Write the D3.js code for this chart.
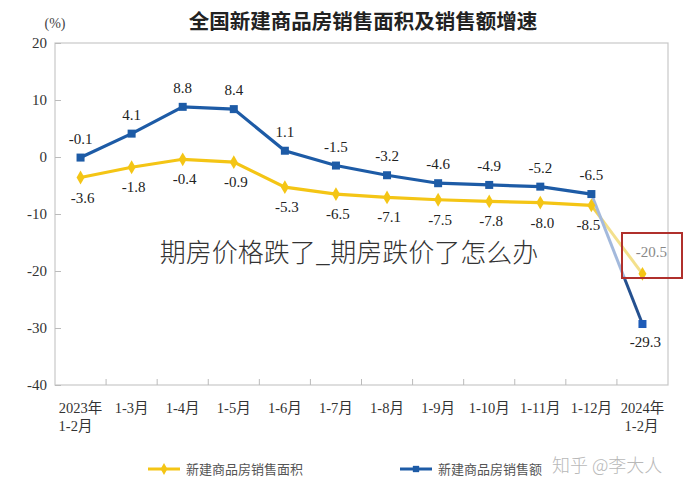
<!DOCTYPE html>
<html>
<head>
<meta charset="utf-8">
<script src="https://cdn.jsdelivr.net/npm/d3@7"></script>
<style>
  body { margin: 0; background: #fff; }
  svg { display: block; }
</style>
</head>
<body>
<svg></svg>
<script>
// chart data
let months = ["2023年\n1-2月", "1-3月", "1-4月", "1-5月", "1-6月", "1-7月", "1-8月",
              "1-9月", "1-10月", "1-11月", "1-12月", "2024年\n1-2月"];
let areaGrowth = [-3.6, -1.8, -0.4, -0.9, -5.3, -6.5, -7.1, -7.5, -7.8, -8.0, -8.5, -20.5];
let salesGrowth = [-0.1, 4.1, 8.8, 8.4, 1.1, -1.5, -3.2, -4.6, -4.9, -5.2, -6.5, -29.3];
let yTicks = [20, 10, 0, -10, -20, -30, -40];

let width = 697;
let height = 490;
let plotLeft = 55, plotRight = 668, plotTop = 43, plotBottom = 385;

let blue = "#1d5ba6";
let yellow = "#f4c515";
let numFont = "'Liberation Serif', 'DejaVu Serif', serif";
let cjkFont = "'Noto Sans CJK SC', sans-serif";

let svg = d3.select("svg")
            .attr("width", width)
            .attr("height", height)

let xScale = d3.scaleBand()
                .domain(months)
                .range([plotLeft, plotRight])

let yScale = d3.scaleLinear()
                .domain([-40, 20])
                .range([plotBottom, plotTop])

let cx = (d, i) => xScale(months[i]) + xScale.bandwidth() / 2

// frame
svg.append("rect")
    .attr("x", plotLeft)
    .attr("y", plotTop)
    .attr("width", plotRight - plotLeft)
    .attr("height", plotBottom - plotTop)
    .attr("fill", "none")
    .attr("stroke", "#c8c8c8")
    .attr("stroke-width", 1.2)

// y axis
let yAxis = d3.axisRight(yScale)
                .tickValues(yTicks)
                .tickSize(6)
                .tickSizeOuter(0)
                .tickFormat("")

let yG = svg.append("g")
    .attr("transform", "translate(" + plotLeft + ",0)")
    .call(yAxis)
yG.select(".domain").remove()
yG.selectAll("line").attr("stroke", "#bbb")

svg.append("g")
    .selectAll("text")
    .data(yTicks)
    .enter()
    .append("text")
    .attr("x", 47)
    .attr("y", d => yScale(d))
    .attr("dy", "0.35em")
    .attr("text-anchor", "end")
    .style("font-family", numFont)
    .style("font-size", "15px")
    .attr("fill", "#333")
    .text(d => d)

// x ticks at band boundaries
let bounds = months.slice(1).map(m => xScale(m))
svg.append("g")
    .selectAll("line")
    .data(bounds)
    .enter()
    .append("line")
    .attr("x1", d => d)
    .attr("x2", d => d)
    .attr("y1", plotBottom)
    .attr("y2", plotBottom - 6)
    .attr("stroke", "#bbb")

// x labels
months.forEach((m, i) => {
    let parts = m.split("\n");
    let x = xScale(m) + xScale.bandwidth() / 2;
    svg.append("text")
        .attr("x", x)
        .attr("y", 413)
        .attr("text-anchor", "middle")
        .style("font-family", numFont + ", " + cjkFont)
        .style("font-size", "14.5px")
        .attr("fill", "#333")
        .text(parts[0]);
    if (parts.length > 1) {
        svg.append("text")
            .attr("x", i == 0 ? x - 5 : x + 16)
            .attr("y", 431)
            .attr("text-anchor", i == 0 ? "middle" : "end")
            .style("font-family", numFont + ", " + cjkFont)
            .style("font-size", "14.5px")
            .attr("fill", "#333")
            .text(parts[1]);
    }
})

// lines
let line = d3.line()
    .x((d, i) => cx(d, i))
    .y(d => yScale(d))

let n = months.length;

// faded last segments
let defs = svg.append("defs");
let grad = defs.append("linearGradient")
    .attr("id", "blueFade")
    .attr("gradientUnits", "userSpaceOnUse")
    .attr("x1", 0).attr("y1", yScale(salesGrowth[n - 2]))
    .attr("x2", 0).attr("y2", yScale(salesGrowth[n - 1]));
grad.append("stop").attr("offset", "0").attr("stop-color", "#a3b9dc");
grad.append("stop").attr("offset", "0.63").attr("stop-color", "#a3b9dc");
grad.append("stop").attr("offset", "0.66").attr("stop-color", "#24508f");
grad.append("stop").attr("offset", "1").attr("stop-color", "#24508f");

let ygrad = defs.append("linearGradient")
    .attr("id", "yellowFade")
    .attr("gradientUnits", "userSpaceOnUse")
    .attr("x1", 0).attr("y1", yScale(areaGrowth[n - 2]))
    .attr("x2", 0).attr("y2", yScale(areaGrowth[n - 1]));
ygrad.append("stop").attr("offset", "0").attr("stop-color", "#efc935");
ygrad.append("stop").attr("offset", "0.3").attr("stop-color", "#f3e08c");
ygrad.append("stop").attr("offset", "1").attr("stop-color", "#f3e08c");

svg.append("line")
    .attr("x1", cx(0, n - 2)).attr("y1", yScale(areaGrowth[n - 2]))
    .attr("x2", cx(0, n - 1)).attr("y2", yScale(areaGrowth[n - 1]))
    .attr("stroke", "url(#yellowFade)")
    .attr("stroke-width", 3)

svg.append("line")
    .attr("x1", cx(0, n - 2)).attr("y1", yScale(salesGrowth[n - 2]))
    .attr("x2", cx(0, n - 1)).attr("y2", yScale(salesGrowth[n - 1]))
    .attr("stroke", "url(#blueFade)")
    .attr("stroke-width", 3)

svg.append("path")
    .datum(areaGrowth.slice(0, n - 1))
    .attr("d", line)
    .attr("fill", "none")
    .attr("stroke", yellow)
    .attr("stroke-width", 3.2)

svg.append("path")
    .datum(salesGrowth.slice(0, n - 1))
    .attr("d", line)
    .attr("fill", "none")
    .attr("stroke", blue)
    .attr("stroke-width", 3.2)

// markers
svg.append("g")
    .selectAll("path")
    .data(areaGrowth)
    .enter()
    .append("path")
    .attr("d", d3.symbol().type(d3.symbolDiamond).size(55))
    .attr("transform", (d, i) => "translate(" + cx(d, i) + "," + yScale(d) + ")")
    .attr("fill", yellow)

svg.append("g")
    .selectAll("rect")
    .data(salesGrowth)
    .enter()
    .append("rect")
    .attr("x", (d, i) => cx(d, i) - 4)
    .attr("y", d => yScale(d) - 4)
    .attr("width", 8)
    .attr("height", 8)
    .attr("fill", (d, i) => i == n - 1 ? "#1e5cb8" : blue)

// value labels
svg.append("g")
    .selectAll("text")
    .data(salesGrowth)
    .enter()
    .append("text")
    .attr("x", (d, i) => cx(d, i) + (i == n - 1 ? 3 : 0))
    .attr("y", (d, i) => yScale(d) + (i == n - 1 ? 23 : -14))
    .attr("text-anchor", "middle")
    .style("font-family", numFont)
    .style("font-size", "15px")
    .attr("fill", "#222")
    .text(d => d.toFixed(1))

svg.append("g")
    .selectAll("text")
    .data(areaGrowth)
    .enter()
    .append("text")
    .attr("x", (d, i) => cx(d, i) + (i == n - 1 ? 9 : i == n - 2 ? -3 : 2))
    .attr("y", (d, i) => yScale(d) + (i == n - 1 ? -17 : 25))
    .attr("text-anchor", "middle")
    .style("font-family", numFont)
    .style("font-size", "15px")
    .attr("fill", (d, i) => i == n - 1 ? "#888" : "#222")
    .text(d => d.toFixed(1))

// red highlight box
svg.append("rect")
    .attr("x", 622)
    .attr("y", 233)
    .attr("width", 60)
    .attr("height", 45)
    .attr("fill", "none")
    .attr("stroke", "#b0302c")
    .attr("stroke-width", 2)

// title and unit
svg.append("text")
    .attr("x", 363)
    .attr("y", 29)
    .attr("text-anchor", "middle")
    .style("font-family", cjkFont)
    .style("font-weight", "bold")
    .style("font-size", "20.5px")
    .attr("fill", "#222")
    .text("全国新建商品房销售面积及销售额增速")

svg.append("text")
    .attr("x", 55)
    .attr("y", 28)
    .attr("text-anchor", "middle")
    .style("font-family", numFont)
    .style("font-size", "14px")
    .attr("fill", "#444")
    .text("(%)")

// legend
let legend = [
    { name: "新建商品房销售面积", color: yellow, x: 148, shape: d3.symbolDiamond },
    { name: "新建商品房销售额", color: blue, x: 400, shape: d3.symbolSquare }
];
legend.forEach(l => {
    svg.append("line")
        .attr("x1", l.x).attr("x2", l.x + 32)
        .attr("y1", 469).attr("y2", 469)
        .attr("stroke", l.color)
        .attr("stroke-width", 3)
    svg.append("path")
        .attr("d", d3.symbol().type(l.shape).size(40))
        .attr("transform", "translate(" + (l.x + 16) + ",469)")
        .attr("fill", l.color)
    svg.append("text")
        .attr("x", l.x + 38)
        .attr("y", 474)
        .style("font-family", cjkFont)
        .style("font-size", "13px")
        .attr("fill", "#555")
        .text(l.name)
})

// watermarks
svg.append("text")
    .attr("x", 349)
    .attr("y", 262)
    .attr("text-anchor", "middle")
    .style("font-family", cjkFont)
    .style("font-weight", "300")
    .style("font-size", "26px")
    .attr("fill", "#333")
    .text("期房价格跌了_期房跌价了怎么办")

svg.append("text")
    .attr("x", 552)
    .attr("y", 472)
    .style("font-family", cjkFont)
    .style("font-weight", "300")
    .style("font-size", "18px")
    .attr("fill", "#b8b8b8")
    .text("知乎 @李大人")
</script>
</body>
</html>
